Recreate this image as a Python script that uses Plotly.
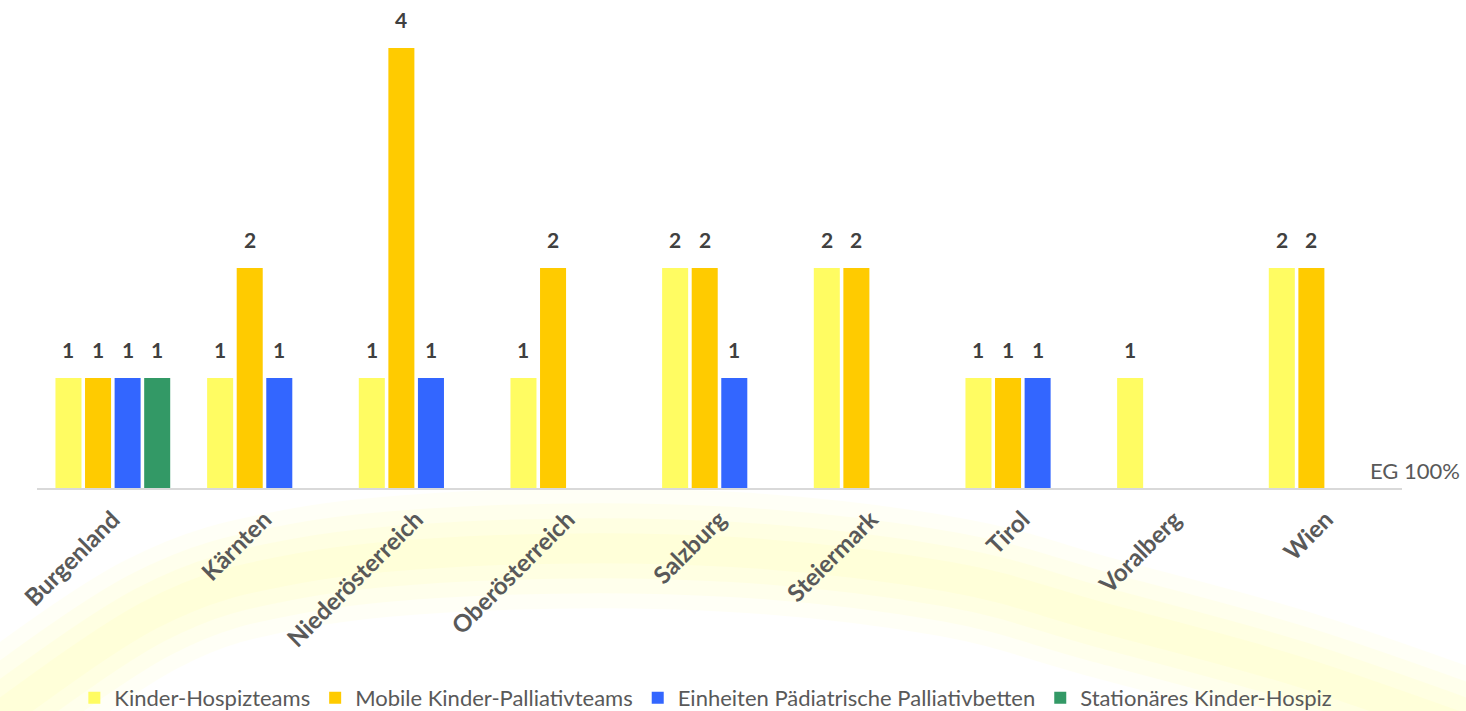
import plotly.graph_objects as go

# Data
regions = ['Burgenland', 'Kärnten', 'Niederösterreich', 'Oberösterreich', 'Salzburg',
           'Steiermark', 'Tirol', 'Voralberg', 'Wien']
hospiz_teams = [1, 1, 1, 1, 2, 2, 1, 1, 2]
palliativ_teams = [1, 2, 4, 2, 2, 2, 1, None, 2]
palliativ_betten = [1, 1, 1, None, 1, None, 1, None, None]
stationaer = [1, None, None, None, None, None, None, None, None]

series = [
    ('Kinder-Hospizteams', hospiz_teams, '#FFFC62'),
    ('Mobile Kinder-Palliativteams', palliativ_teams, '#FFCB00'),
    ('Einheiten Pädiatrische Palliativbetten', palliativ_betten, '#3366FF'),
    ('Stationäres Kinder-Hospiz', stationaer, '#339966'),
]

BARGAP = 0.22
GROUPGAP = 0.12

fig = go.Figure()

for name, vals, color in series:
    fig.add_trace(go.Bar(
        x=regions, y=vals, name=name,
        marker=dict(color=color, line=dict(width=0)),
    ))

# value labels above the bars
slot = (1 - BARGAP) / len(series)
for j, (name, vals, color) in enumerate(series):
    for i, v in enumerate(vals):
        if v is None:
            continue
        fig.add_annotation(x=i + (j - (len(series) - 1) / 2) * slot, y=v, xref='x', yref='y',
                           text=str(v), showarrow=False, yanchor='bottom', yshift=14,
                           font=dict(family='Lato', size=21, color='#404040', weight='bold'))

# faint yellow glow arc in the background (decoration, pixel guide points)
arc_px = [(-40, 745), (150, 615), (300, 568), (500, 550), (733, 552),
          (950, 577), (1100, 617), (1300, 672), (1510, 745)]


def to_paper(px, py):
    return (px - 37) / 1365, (488 - py) / 488


pts = [to_paper(*p) for p in arc_px]
path = f'M {pts[0][0]},{pts[0][1]}'
for k in range(len(pts) - 1):
    p0 = pts[max(k - 1, 0)]
    p1, p2 = pts[k], pts[k + 1]
    p3 = pts[min(k + 2, len(pts) - 1)]
    c1 = (p1[0] + (p2[0] - p0[0]) / 6, p1[1] + (p2[1] - p0[1]) / 6)
    c2 = (p2[0] - (p3[0] - p1[0]) / 6, p2[1] - (p3[1] - p1[1]) / 6)
    path += f' C {c1[0]},{c1[1]} {c2[0]},{c2[1]} {p2[0]},{p2[1]}'

for w, op in [(120, 0.06), (90, 0.07), (60, 0.08), (30, 0.08)]:
    fig.add_shape(type='path', path=path, xref='paper', yref='paper',
                  line=dict(color=f'rgba(255,250,110,{op})', width=w),
                  layer='below')

fig.add_annotation(text='EG 100%', xref='paper', yref='paper', x=(1368 - 37) / 1365,
                   y=(488 - 470) / 488, xanchor='left', yanchor='middle', showarrow=False,
                   font=dict(family='Lato', size=22, color='#595959'))

fig.update_layout(
    barmode='group', bargap=BARGAP, bargroupgap=GROUPGAP,
    width=1466, height=711,
    margin=dict(l=37, r=64, t=0, b=223, autoexpand=False),
    paper_bgcolor='white', plot_bgcolor='rgba(0,0,0,0)',
    showlegend=True,
    legend=dict(orientation='h', x=0.49, xanchor='center', y=-0.43, yanchor='middle',
                bgcolor='rgba(0,0,0,0)',
                font=dict(family='Lato', size=22, color='#595959'),
                itemwidth=30, traceorder='normal'),
    xaxis=dict(tickangle=-45, showline=True, linecolor='#D9D9D9', linewidth=2,
               tickfont=dict(family='Lato', size=24, color='#595959', weight='bold'),
               ticks='', showgrid=False, automargin=False, ticklabelstandoff=6),
    yaxis=dict(range=[0, 488 / 110], visible=False, showgrid=False, automargin=False),
)

fig.write_html("out.html", config={'displayModeBar': False},
               post_script="document.body.style.margin='0';")
